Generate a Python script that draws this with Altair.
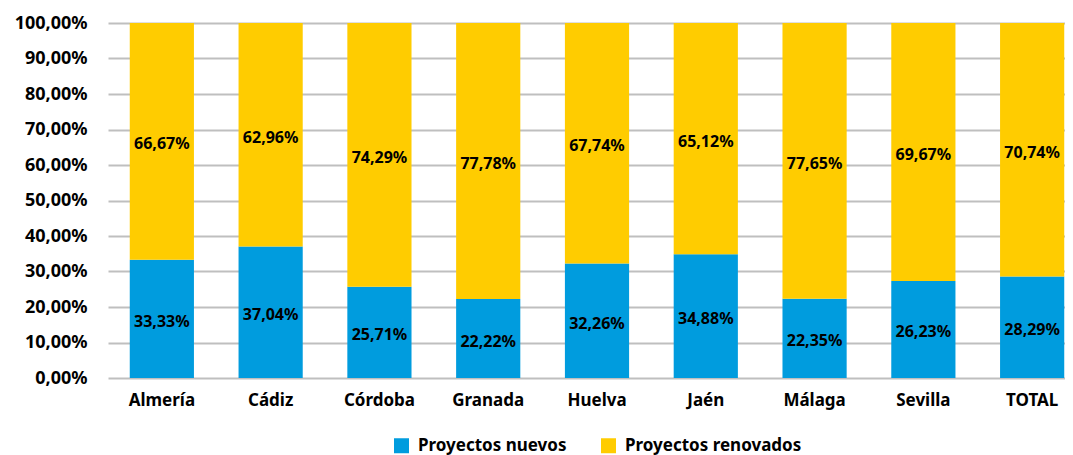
import altair as alt
import pandas as pd

provincias = ["Almería", "Cádiz", "Córdoba", "Granada", "Huelva", "Jaén", "Málaga", "Sevilla", "TOTAL"]
nuevos = [33.33, 37.04, 25.71, 22.22, 32.26, 34.88, 22.35, 26.23, 28.29]
renovados = [66.67, 62.96, 74.29, 77.78, 67.74, 65.12, 77.65, 69.67, 70.74]
series = ["Proyectos nuevos", "Proyectos renovados"]
colores = ["#009CDE", "#FFCC00"]
y_ticks = [0, 0.1, 0.2, 0.3, 0.4, 0.5, 0.6, 0.7, 0.8, 0.9, 1.0]

rows = []
for i, p in enumerate(provincias):
    rows.append({"provincia": p, "serie": series[0], "orden": 0, "valor": nuevos[i]})
    rows.append({"provincia": p, "serie": series[1], "orden": 1, "valor": renovados[i]})
df = pd.DataFrame(rows)

FONT = "Noto Sans"

base = alt.Chart(df).transform_stack(
    stack="valor",
    groupby=["provincia"],
    as_=["y0", "y1"],
    offset="normalize",
    sort=[alt.SortField("orden", order="ascending")],
).transform_calculate(
    mid="(datum.y0 + datum.y1) / 2",
    etiqueta="replace(format(datum.valor, '.2f'), '.', ',') + '%'",
)

x_scale = alt.Scale(range=[0, 978], paddingInner=0.41, paddingOuter=0.2)
x_axis = alt.Axis(
    labelAngle=0,
    labelFont=FONT,
    labelFontSize=17,
    labelFontWeight="bold",
    labelColor="#000000",
    labelPadding=14,
    ticks=False,
    domain=False,
    grid=False,
)
y_scale = alt.Scale(domain=[0, 1], nice=False)
y_axis = alt.Axis(
    values=y_ticks,
    tickCount=20,
    labelExpr="replace(format(datum.value * 100, '.2f'), '.', ',') + '%'",
    labelOverlap=False,
    labelFont=FONT,
    labelFontSize=18,
    labelFontWeight="bold",
    labelColor="#000000",
    labelPadding=21,
    ticks=False,
    domain=False,
    grid=True,
    gridColor="#BFBFBF",
    gridWidth=2,
)

bars = base.mark_bar().encode(
    x=alt.X("provincia:N", sort=provincias, title=None, scale=x_scale, axis=x_axis),
    y=alt.Y("y0:Q", title=None, scale=y_scale, axis=y_axis),
    y2="y1:Q",
    color=alt.Color(
        "serie:N",
        scale=alt.Scale(domain=series, range=colores),
        legend=alt.Legend(
            title=None,
            orient="none",
            legendX=285,
            legendY=414,
            direction="horizontal",
            symbolType="square",
            symbolSize=225,
            symbolStrokeWidth=0,
            labelFont=FONT,
            labelFontSize=17,
            labelFontWeight="bold",
            labelColor="#000000",
            labelOffset=8,
            labelLimit=400,
            columnPadding=33,
        ),
    ),
)

labels = base.mark_text(
    font=FONT, fontSize=16, fontWeight="bold", color="#000000", baseline="middle", dy=3
).encode(
    x=alt.X("provincia:N", sort=provincias, title=None, scale=x_scale, axis=x_axis),
    y=alt.Y("mid:Q", title=None, scale=y_scale, axis=y_axis),
    text="etiqueta:N",
)

chart = alt.layer(bars, labels).properties(
    width=957,
    height=355,
    autosize=alt.AutoSizeParams(type="none"),
    padding={"left": 100, "top": 15, "right": 0, "bottom": 80},
).configure_view(stroke=None)

chart.save("out.html", embed_options={"renderer": "svg", "actions": False})
